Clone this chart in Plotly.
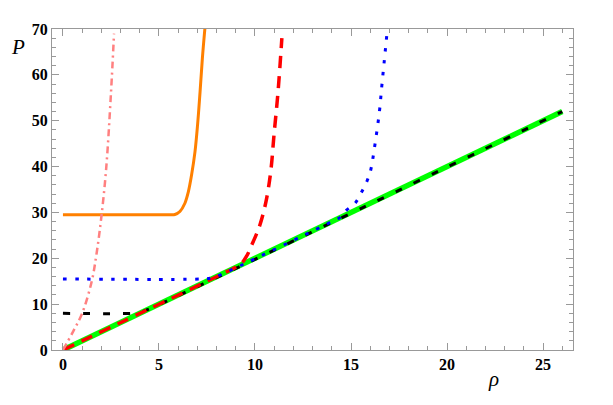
import plotly.graph_objects as go

# data
green_rho = [0, 26]
green_P = [0, 52]

black_rho = [0, 3.6, 4.0, 4.4, 26]
black_P = [8, 8, 8.2, 8.8, 52]

red_rho = [0, 8.6, 9.0, 9.3, 9.57, 9.83, 10.05, 10.26, 10.57, 10.82, 10.99, 11.2, 11.4]
red_P = [0, 17.2, 18.05, 18.9, 20.5, 22.9, 25.0, 27.3, 32.3, 38.9, 46.9, 56.3, 68]

blue_rho = [0, 7.3, 7.75, 8.2, 14.0, 14.5, 14.77, 15.21, 15.56, 15.82, 16.03, 16.2, 16.48, 16.6, 16.72, 16.86]
blue_P = [15.5, 15.5, 15.7, 16.4, 28, 29.1, 30.5, 32, 34.5, 36.7, 39.3, 43.5, 52, 57.4, 62.5, 68.5]

orange_rho = [0, 5.5, 5.83, 6.09, 6.35, 6.53, 6.70, 6.875, 7.01, 7.14, 7.26, 7.40]
orange_P = [29.5, 29.5, 29.55, 30.2, 32.0, 34.5, 38.2, 43.2, 49.1, 56.3, 63.6, 70.5]

pink_rho = [0, 0.5, 1.0, 1.5, 1.75, 2.0, 2.25, 2.5, 2.66]
pink_P = [0, 3.8, 8, 15, 21, 29, 39.5, 56, 69]

x_ticks = [0, 5, 10, 15, 20, 25]
y_ticks = [0, 10, 20, 30, 40, 50, 60, 70]

LBL = '<span style="font-family:\'Liberation Serif\', serif;font-size:16px;fill:black;font-weight:bold"><b>{}</b></span>'

fig = go.Figure()
fig.add_trace(go.Scatter(x=green_rho, y=green_P, mode="lines",
                         line=dict(color="#00FF00", width=5.5)))
fig.add_trace(go.Scatter(x=black_rho, y=black_P, mode="lines", line_shape="spline",
                         line=dict(color="black", width=3, dash="7px,13px")))
fig.add_trace(go.Scatter(x=red_rho, y=red_P, mode="lines", line_shape="spline",
                         line=dict(color="#FF0000", width=3.5, dash="12px,8px")))
fig.add_trace(go.Scatter(x=blue_rho, y=blue_P, mode="lines", line_shape="spline",
                         line=dict(color="#0000FF", width=3, dash="3.5px,8.5px")))
fig.add_trace(go.Scatter(x=orange_rho, y=orange_P, mode="lines", line_shape="spline",
                         line=dict(color="#FF8000", width=3)))
fig.add_trace(go.Scatter(x=pink_rho, y=pink_P, mode="lines", line_shape="spline",
                         line=dict(color="#FF8080", width=2.5, dash="7px,4px,2px,4px")))

tickfont = dict(family="Liberation Serif", size=16, color="black", weight="bold")
axis_common = dict(showgrid=False, zeroline=False, showline=True, linecolor="#999999",
                   linewidth=1, mirror="allticks", ticks="inside", ticklen=7,
                   tickcolor="#999999")

fig.update_xaxes(range=[-0.57, 26.56], tickvals=x_ticks,
                 ticktext=[LBL.format(v) for v in x_ticks], tickfont=tickfont,
                 minor=dict(ticks="inside", dtick=1, ticklen=4, tickcolor="#999999"),
                 **axis_common)
fig.update_yaxes(range=[0, 70], tickvals=y_ticks,
                 ticktext=[LBL.format(v) for v in y_ticks], tickfont=tickfont,
                 minor=dict(ticks="inside", dtick=2, ticklen=4, tickcolor="#999999"),
                 **axis_common)

pw, ph = 613 - 52 - 40, 405 - 29 - 55
fig.update_layout(
    width=613, height=405, margin=dict(l=52, r=40, t=29, b=55),
    plot_bgcolor="white", paper_bgcolor="white", showlegend=False,
)
fig.add_annotation(text="<i>P</i>", x=(18 - 52) / pw, y=(350 - 47) / ph,
                   xref="paper", yref="paper", showarrow=False,
                   xanchor="center", yanchor="middle",
                   font=dict(family="Liberation Serif", size=21, color="black"))
fig.add_annotation(text="<i>ρ</i>", x=(493 - 52) / pw, y=(350 - 379) / ph,
                   xref="paper", yref="paper", showarrow=False,
                   xanchor="center", yanchor="middle",
                   font=dict(family="Liberation Serif", size=21, color="black"))

fig.write_html("out.html")
